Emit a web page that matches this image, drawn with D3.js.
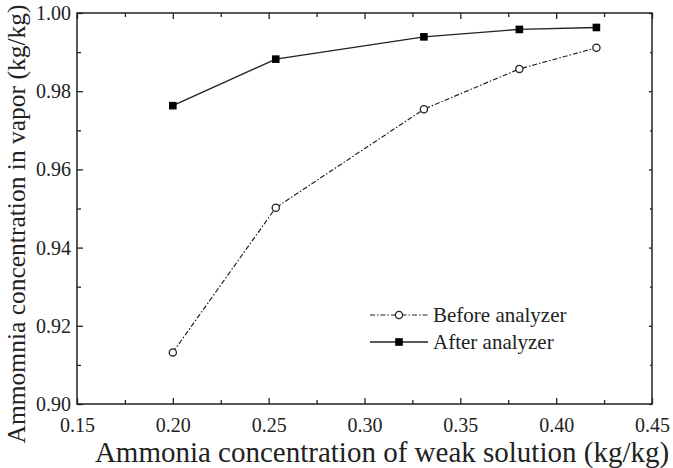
<!DOCTYPE html>
<html><head><meta charset="utf-8">
<script src="https://cdn.jsdelivr.net/npm/d3@7"></script>
<style>
html,body{margin:0;padding:0;background:#fff;}
svg, svg text{font-family:"Liberation Serif",serif !important;}
</style></head>
<body>
<svg id="chart" width="673" height="468"></svg>
<script>
const xValues = [0.200, 0.2537, 0.331, 0.3808, 0.421];
const beforeValues = [0.9132, 0.9502, 0.9754, 0.9857, 0.9911];
const afterValues = [0.9763, 0.9882, 0.9939, 0.9958, 0.9963];
const seriesNames = ["Before analyzer", "After analyzer"];
const xTicks = [0.15, 0.20, 0.25, 0.30, 0.35, 0.40, 0.45];
const yTicks = [0.90, 0.92, 0.94, 0.96, 0.98, 1.00];
const xMinor = [0.175, 0.225, 0.275, 0.325, 0.375, 0.425];
const yMinor = [0.91, 0.93, 0.95, 0.97, 0.99];
const xTitle = "Ammonia concentration of weak solution (kg/kg)";
const yTitle = "Ammomnia concentration in vapor (kg/kg)";

const L = 77, R = 652, T = 13, B = 404;
const FF = '"Liberation Serif", serif';
const svg = d3.select("#chart");
const x = d3.scaleLinear().domain([0.15, 0.45]).range([L, R]);
const y = d3.scaleLinear().domain([0.90, 1.00]).range([B, T]);
const col = "#222";

svg.append("rect").attr("x", L).attr("y", T).attr("width", R - L).attr("height", B - T)
  .attr("fill", "none").attr("stroke", col).attr("stroke-width", 1.5);

const fmt = d3.format(".2f");
function ax(gen, tx, ty) {
  return svg.append("g").attr("transform", `translate(${tx},${ty})`).call(gen)
    .attr("font-family", FF).attr("font-size", 20);
}
ax(d3.axisBottom(x).tickValues(xTicks).tickFormat(fmt).tickSizeInner(-6).tickSizeOuter(0).tickPadding(14), 0, B);
ax(d3.axisBottom(x).tickValues(xMinor).tickFormat("").tickSizeInner(-4).tickSizeOuter(0), 0, B);
ax(d3.axisTop(x).tickValues(xTicks).tickFormat("").tickSizeInner(-6).tickSizeOuter(0), 0, T);
ax(d3.axisTop(x).tickValues(xMinor).tickFormat("").tickSizeInner(-4).tickSizeOuter(0), 0, T);
ax(d3.axisLeft(y).tickValues(yTicks).tickFormat(fmt).tickSizeInner(-6).tickSizeOuter(0).tickPadding(6), L, 0);
ax(d3.axisLeft(y).tickValues(yMinor).tickFormat("").tickSizeInner(-4).tickSizeOuter(0), L, 0);
ax(d3.axisRight(y).tickValues(yTicks).tickFormat("").tickSizeInner(-3).tickSizeOuter(0), R, 0);
ax(d3.axisRight(y).tickValues(yMinor).tickFormat("").tickSizeInner(-2).tickSizeOuter(0), R, 0);

svg.selectAll(".domain").remove();
svg.selectAll(".tick line").attr("stroke", col).attr("stroke-width", 1.3);
svg.selectAll(".tick text").attr("fill", col);

// titles
svg.append("text").attr("x", 382).attr("y", 462).attr("text-anchor", "middle")
  .attr("font-family", FF).attr("font-size", 29).attr("fill", col).text(xTitle);
svg.append("text").attr("transform", `translate(25,224) rotate(-90)`)
  .attr("text-anchor", "middle").attr("font-family", FF).attr("font-size", 25.5).attr("fill", col).text(yTitle);

const line = d3.line().x(d => x(d[0])).y(d => y(d[1]));
const before = xValues.map((v, i) => [v, beforeValues[i]]);
const after = xValues.map((v, i) => [v, afterValues[i]]);
const dash = "5,2,1.5,2";

svg.append("path").datum(before).attr("d", line).attr("fill", "none")
  .attr("stroke", col).attr("stroke-width", 1.2).attr("stroke-dasharray", dash);
svg.append("path").datum(after).attr("d", line).attr("fill", "none")
  .attr("stroke", col).attr("stroke-width", 1.4);

svg.selectAll(".mb").data(before).join("circle").attr("class", "mb")
  .attr("cx", d => x(d[0])).attr("cy", d => y(d[1])).attr("r", 3.6)
  .attr("fill", "#fff").attr("stroke", col).attr("stroke-width", 1.3);
svg.selectAll(".ma").data(after).join("rect").attr("class", "ma")
  .attr("x", d => x(d[0]) - 3.8).attr("y", d => y(d[1]) - 3.8).attr("width", 7.6).attr("height", 7.6)
  .attr("fill", "#000");

const lg = svg.append("g");
const ly = [315, 342];
lg.append("line").attr("x1", 370).attr("x2", 428).attr("y1", ly[0]).attr("y2", ly[0])
  .attr("stroke", col).attr("stroke-width", 1.2).attr("stroke-dasharray", dash);
lg.append("circle").attr("cx", 399).attr("cy", ly[0]).attr("r", 3.6)
  .attr("fill", "#fff").attr("stroke", col).attr("stroke-width", 1.3);
lg.append("line").attr("x1", 370).attr("x2", 428).attr("y1", ly[1]).attr("y2", ly[1])
  .attr("stroke", col).attr("stroke-width", 1.4);
lg.append("rect").attr("x", 399 - 3.8).attr("y", ly[1] - 3.8).attr("width", 7.6).attr("height", 7.6).attr("fill", "#000");
lg.selectAll(".lt").data(seriesNames).join("text").attr("class", "lt")
  .attr("x", 433).attr("y", (d, i) => ly[i] + 7).attr("font-family", FF).attr("font-size", 21).attr("fill", col).text(d => d);
</script>
</body></html>
